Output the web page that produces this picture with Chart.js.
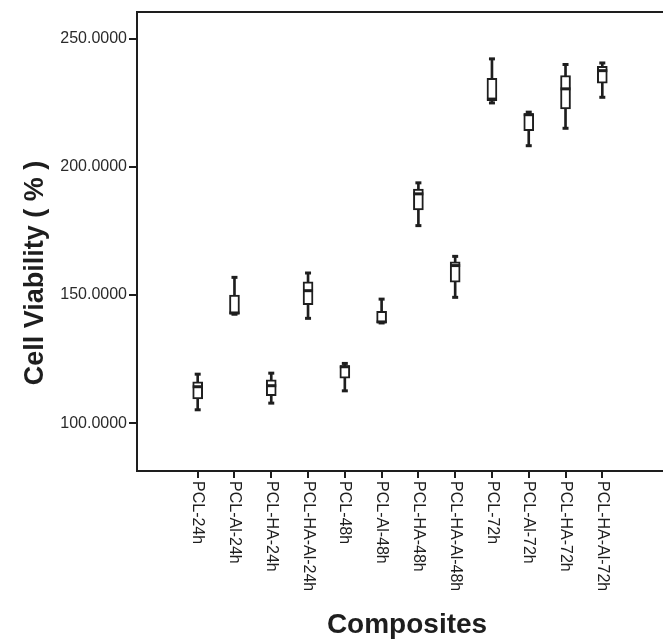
<!DOCTYPE html>
<html>
<head>
<meta charset="utf-8">
<script src="https://cdn.jsdelivr.net/npm/chart.js@4.4.1/dist/chart.umd.min.js"></script>
<style>
  html, body { margin: 0; padding: 0; background: #fff; }
  #wrap { width: 663px; height: 641px; position: relative; }
</style>
</head>
<body>
<div id="wrap"><canvas id="boxChart"></canvas></div>
<script>
const categories = ['PCL-24h', 'PCL-Al-24h', 'PCL-HA-24h', 'PCL-HA-Al-24h', 'PCL-48h', 'PCL-Al-48h',
                    'PCL-HA-48h', 'PCL-HA-Al-48h', 'PCL-72h', 'PCL-Al-72h', 'PCL-HA-72h', 'PCL-HA-Al-72h'];
const whiskerMin = [105.2, 142.5, 107.8, 140.9, 112.6, 139.1, 177.1, 149.1, 225.0, 208.3, 215.1, 227.2];
const q1         = [109.4, 142.5, 110.7, 146.2, 117.5, 139.1, 183.2, 155.0, 225.9, 214.2, 222.7, 232.7];
const medians    = [114.2, 143.0, 114.6, 151.7, 122.0, 139.5, 189.5, 161.5, 226.5, 220.4, 230.5, 237.6];
const q3         = [116.1, 150.0, 116.9, 155.2, 122.5, 143.6, 191.4, 163.0, 234.6, 220.8, 235.7, 239.3];
const whiskerMax = [119.1, 156.9, 119.5, 158.6, 123.3, 148.4, 193.8, 165.1, 242.2, 221.4, 240.0, 240.6];
const yTicks = [100, 150, 200, 250];

const ink = '#1e1e1e';
const idx = categories.map((c, i) => i);

// frame top line, rotated category labels and axis titles
const extras = {
    id: 'extras',
    afterDraw(chart) {
        const ctx = chart.ctx;
        const area = chart.chartArea;
        const xs = chart.scales.x;
        ctx.save();
        ctx.strokeStyle = ink;
        ctx.lineWidth = 2;
        ctx.beginPath();
        ctx.moveTo(area.left, area.top);
        ctx.lineTo(area.right, area.top);
        ctx.stroke();

        ctx.fillStyle = ink;
        ctx.font = '16px "Liberation Sans", Arial, sans-serif';
        ctx.textAlign = 'left';
        ctx.textBaseline = 'middle';
        categories.forEach(function(label, i) {
            ctx.save();
            ctx.translate(xs.getPixelForValue(i), area.bottom + 10);
            ctx.rotate(Math.PI / 2);
            ctx.fillText(label, 0, 0);
            ctx.restore();
        });

        ctx.font = 'bold 28px "Liberation Sans", Arial, sans-serif';
        ctx.textAlign = 'center';
        ctx.textBaseline = 'alphabetic';
        ctx.fillText('Composites', 407, 633);

        ctx.font = 'bold 27px "Liberation Sans", Arial, sans-serif';
        ctx.save();
        ctx.translate(43, 273);
        ctx.rotate(-Math.PI / 2);
        ctx.fillText('Cell Viability ( % )', 0, 0);
        ctx.restore();
        ctx.restore();
    }
};

const chart = new Chart(document.getElementById('boxChart').getContext('2d'), {
    type: 'bar',
    data: {
        datasets: [
            {
                type: 'scatter',
                data: idx.map(i => ({ x: i, y: medians[i] })),
                pointStyle: 'line',
                radius: 5,
                borderWidth: 3,
                borderColor: ink,
                order: 0
            },
            {
                type: 'scatter',
                data: idx.map(i => ({ x: i, y: whiskerMin[i] })).concat(idx.map(i => ({ x: i, y: whiskerMax[i] }))),
                pointStyle: 'line',
                radius: 3,
                borderWidth: 3,
                borderColor: ink,
                order: 0
            },
            {
                data: idx.map(i => ({ x: i, y: [q1[i], q3[i]] })),
                backgroundColor: '#ffffff',
                borderColor: ink,
                borderWidth: 2,
                borderSkipped: false,
                barThickness: 10,
                grouped: false,
                order: 1
            },
            {
                data: idx.map(i => ({ x: i, y: [whiskerMin[i], whiskerMax[i]] })),
                backgroundColor: ink,
                borderWidth: 0,
                barThickness: 2,
                grouped: false,
                order: 2
            }
        ]
    },
    options: {
        responsive: true,
        maintainAspectRatio: false,
        animation: false,
        layout: { autoPadding: false, padding: { top: 12, right: 0, bottom: 163, left: 0 } },
        plugins: {
            legend: { display: false },
            tooltip: { enabled: false }
        },
        scales: {
            x: {
                type: 'linear',
                offset: false,
                min: -1.65,
                max: 12.65,
                afterBuildTicks: function(scale) {
                    scale.ticks = idx.map(v => ({ value: v }));
                },
                ticks: { display: false },
                grid: {
                    offset: false,
                    drawOnChartArea: false,
                    drawTicks: true,
                    tickLength: 7,
                    color: ink,
                    lineWidth: 2
                },
                border: { display: true, color: ink, width: 2 }
            },
            y: {
                min: 81.3,
                max: 260.5,
                afterBuildTicks: function(scale) {
                    scale.ticks = yTicks.map(v => ({ value: v }));
                },
                afterFit: function(scale) {
                    scale.width = 137;
                },
                ticks: {
                    color: '#2a2a2a',
                    padding: 2,
                    font: { family: '"Liberation Sans", Arial, sans-serif', size: 16 },
                    callback: function(v) { return v.toFixed(4); }
                },
                grid: {
                    drawOnChartArea: false,
                    drawTicks: true,
                    tickLength: 8,
                    color: ink,
                    lineWidth: 2
                },
                border: { display: true, color: ink, width: 2 }
            }
        }
    },
    plugins: [extras]
});
</script>
</body>
</html>
